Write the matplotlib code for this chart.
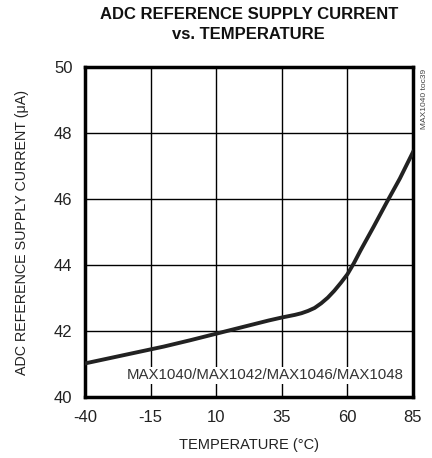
import matplotlib
matplotlib.use("Agg")
import matplotlib.pyplot as plt

plt.rcParams['font.family'] = ['Liberation Sans Narrow', 'Arial Narrow', 'Liberation Sans', 'DejaVu Sans']
plt.rcParams['axes.unicode_minus'] = False

# Temperatur (°C) og strøm (uA) lest av kurven
temps = [-40, -30, -20, -10, 0, 10, 20, 30, 35, 40, 42.5, 45, 47.5, 50, 52.5, 55,
         57.5, 60, 62.5, 65, 70, 75, 80, 85]
current = [41.02, 41.19, 41.36, 41.53, 41.72, 41.92, 42.12, 42.32, 42.41, 42.49,
           42.54, 42.61, 42.7, 42.84, 43.01, 43.22, 43.46, 43.72, 44.06, 44.44,
           45.16, 45.9, 46.62, 47.42]

x_ticks = [-40, -15, 10, 35, 60, 85]
y_ticks = [40, 42, 44, 46, 48, 50]

fig = plt.figure(figsize=(4.32, 4.58), dpi=100)
ax = fig.add_axes([0.197, 0.133, 0.759, 0.721])

ax.plot(temps, current, color="#222222", linewidth=2.8, zorder=3,
        solid_joinstyle="round")

ax.set_xlim(-40, 85)
ax.set_ylim(40, 50)
ax.set_xticks(x_ticks)
ax.set_yticks(y_ticks)
ax.tick_params(length=0, labelsize=12, pad=9, colors="#222222")
ax.grid(True, color="black", linewidth=1.0)
for s in ax.spines.values():
    s.set_linewidth(2.5)

ax.set_xlabel("TEMPERATURE (°C)", fontsize=10.5, labelpad=10, color="#222222")
ax.set_ylabel("ADC REFERENCE SUPPLY CURRENT (μA)", fontsize=10.3, labelpad=18,
              color="#222222")

ax.text(0.972, 0.045, "MAX1040/MAX1042/MAX1046/MAX1048", transform=ax.transAxes,
        ha="right", va="bottom", fontsize=10.8, color="#333333",
        bbox=dict(facecolor="white", edgecolor="none", pad=1.0), zorder=4)

fig.text(0.982, 0.85, "MAX1040 toc39", rotation=90, ha="center", va="top",
         fontsize=6, color="#444444")

fig.suptitle("ADC REFERENCE SUPPLY CURRENT\nvs. TEMPERATURE", x=0.576, y=0.985,
             fontsize=12, fontweight="bold", color="#111111", linespacing=1.45)

plt.savefig("out.png", dpi=100)
